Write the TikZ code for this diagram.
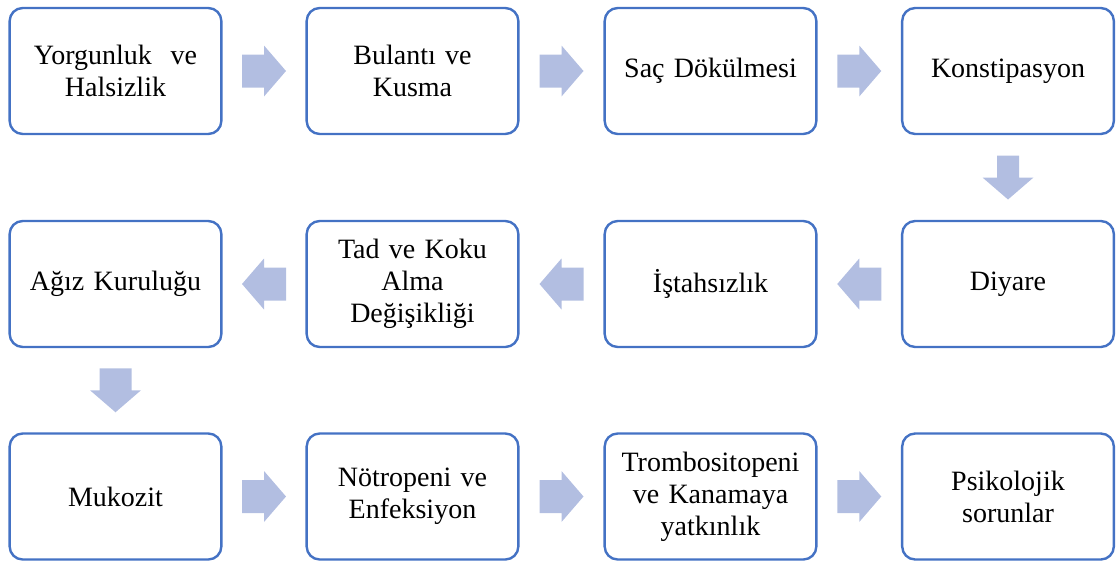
\documentclass[tikz,border=0pt]{standalone}
\usepackage{fontspec}
\setmainfont{Liberation Serif}
\usepackage{tikz}
\usetikzlibrary{calc}
\definecolor{boxblue}{RGB}{68,114,196}
\definecolor{arrowblue}{RGB}{178,190,225}
\tikzset{
box/.style={ % Rounded boxes of the chain
draw=boxblue,
line width=2.4pt,
rounded corners=13pt,
minimum width=211pt,
minimum height=126pt,
text width=205pt,
align=center,
font=\fontsize{28}{32}\selectfont},
pics/blockarr/.style={code={ % Block arrow, pointing right
\fill[arrowblue] (-22,-#1) -- (0,-#1) -- (0,-25.5) -- (22,0) -- (0,25.5) -- (0,#1) -- (-22,#1) -- cycle;}},
pics/blockarr/.default=16.5}

\begin{document}
\begin{tikzpicture}[x=1pt,y=-1pt]
\useasboundingbox (0,0) rectangle (1116,563);
\node[box] (s1) at (115.5,71) {Yorgunluk~ ve\\Halsizlik};
\node[box] (s2) at (412.5,71) {Bulantı ve\\Kusma};
\node[box] (s3) at (710.5,71) {Saç Dökülmesi};
\node[box] (s4) at (1008,71) {Konstipasyon};
\node[box] (s5) at (1008,284) {Diyare};
\node[box] (s6) at (710.5,284) {İştahsızlık};
\node[box] (s7) at (412.5,284) {Tad ve Koku\\Alma\\Değişikliği};
\node[box] (s8) at (115.5,284) {Ağız Kuruluğu};
\node[box] (s9) at (115.5,496.5) {Mukozit};
\node[box] (s10) at (412.5,496.5) {Nötropeni ve\\Enfeksiyon};
\node[box] (s11) at (710.5,496.5) {Trombositopeni\\ve Kanamaya\\yatkınlık};
\node[box] (s12) at (1008,496.5) {Psikolojik\\sorunlar};
\pic at ($(s1)!.5!(s2)$) {blockarr};
\pic at ($(s2)!.5!(s3)$) {blockarr};
\pic at ($(s3)!.5!(s4)$) {blockarr};
\pic[rotate=-90] at ($(s4)!.5!(s5)$) {blockarr=11};
\pic[rotate=180] at ($(s5)!.5!(s6)$) {blockarr};
\pic[rotate=180] at ($(s6)!.5!(s7)$) {blockarr};
\pic[rotate=180] at ($(s7)!.5!(s8)$) {blockarr};
\pic[rotate=-90] at ($(s8)!.5!(s9)$) {blockarr=16};
\pic at ($(s9)!.5!(s10)$) {blockarr};
\pic at ($(s10)!.5!(s11)$) {blockarr};
\pic at ($(s11)!.5!(s12)$) {blockarr};
\end{tikzpicture}
\end{document}
